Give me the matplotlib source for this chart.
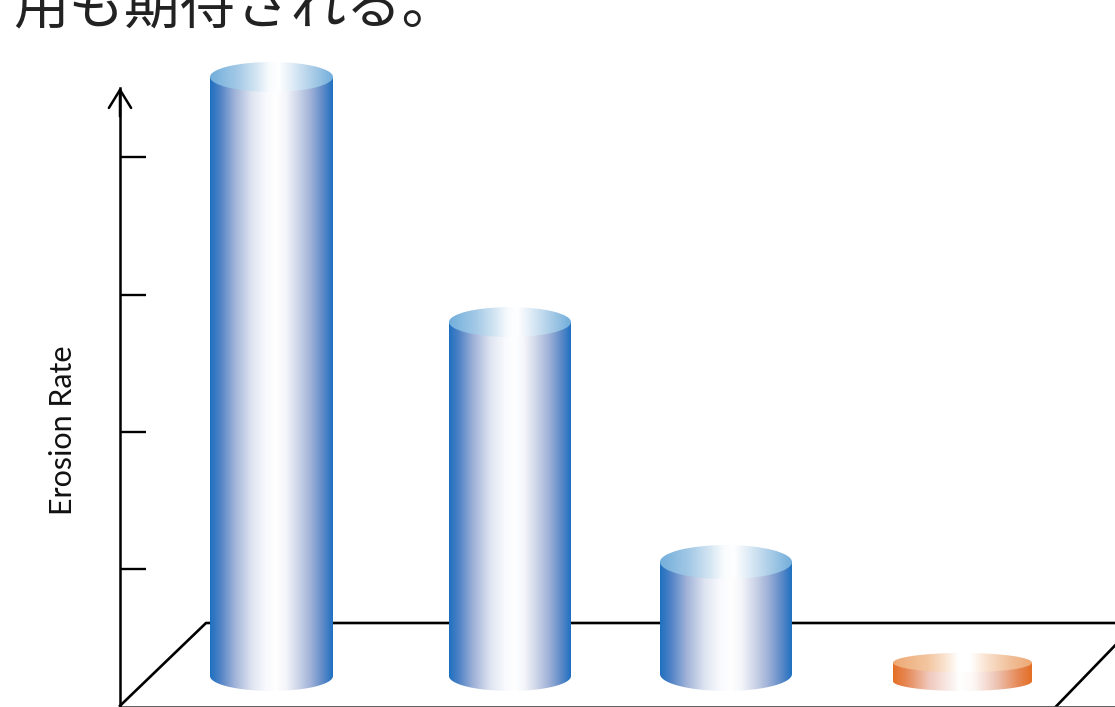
import numpy as np
import matplotlib
matplotlib.use("Agg")
import matplotlib.pyplot as plt
from matplotlib.colors import LinearSegmentedColormap
from matplotlib.patches import Ellipse
from matplotlib.path import Path
from matplotlib.patches import PathPatch

# valores (1 unidad = una marca del eje)
centers = [271.5, 510, 726, 962.5]
widths = [123, 122, 132, 139]
erosion = [4.363, 2.578, 0.815, 0.135]
cap_heights = [0.109, 0.109, 0.124, 0.071]
colors = ["blue", "blue", "blue", "orange"]
y_ticks = [1, 2, 3, 4]
y_label = "Erosion Rate"
title_text = "用も期待される。"

floor_bottom = 0.113
PX = 137.3

side_stops = [(0, "#1f70c0"), (0.08, "#4f82c6"), (0.20, "#a0b2d8"), (0.34, "#dfe5f1"),
              (0.46, "#f9fafd"), (0.54, "#ffffff"), (0.62, "#f4f5fa"), (0.70, "#d5dbeb"),
              (0.82, "#a0b2d8"), (0.92, "#5f8bc8"), (1, "#1f70c0")]
cap_stops = [(0, "#72aedb"), (0.22, "#a3c9e6"), (0.38, "#d5e6f3"), (0.48, "#f8fbfd"),
             (0.56, "#ffffff"), (0.66, "#e3eef7"), (0.85, "#a5cae6"), (1, "#72aedb")]
side_orange = [(0, "#e46f26"), (0.10, "#e68a58"), (0.26, "#f0c9bd"), (0.40, "#f9ebe7"),
               (0.48, "#ffffff"), (0.58, "#fdf8f6"), (0.74, "#eec6b8"), (0.90, "#e68a58"), (1, "#e46f26")]
cap_orange = [(0, "#eea873"), (0.25, "#f3c6a0"), (0.38, "#fae5d4"), (0.47, "#ffffff"),
              (0.56, "#ffffff"), (0.66, "#fae5d4"), (0.84, "#f1c09a"), (1, "#eea873")]
cmaps = {
    "blue": (LinearSegmentedColormap.from_list("bs", side_stops), LinearSegmentedColormap.from_list("bc", cap_stops)),
    "orange": (LinearSegmentedColormap.from_list("os", side_orange), LinearSegmentedColormap.from_list("oc", cap_orange)),
}

fig = plt.figure(figsize=(11.15, 7.07), dpi=100)
ax = fig.add_axes([0, 0, 1, 1])
ymax = 706.5 / PX
ymin = -0.5 / PX
grad = np.linspace(0, 1, 256).reshape(1, -1)

# piso
floor_y = 83.5 / PX
ax.plot([120, 206, 1115], [0.005, floor_y, floor_y], color="black", lw=1.9, zorder=1)
ax.plot([1056, 1115], [0.0, 61 / PX], color="black", lw=1.9, zorder=1)
ax.plot([120, 1115], [0.0, 0.0], color="#444444", lw=1.2, zorder=1, clip_on=False)

for cx, w, val, cap, col in zip(centers, widths, erosion, cap_heights, colors):
    side_map, cap_map = cmaps[col]
    low = floor_bottom + cap
    top = low + val
    t = np.linspace(np.pi, 2 * np.pi, 60)
    xs = cx + w / 2 * np.cos(t)
    ys = low + cap * np.sin(t)
    verts = [(cx - w / 2, top)] + list(zip(xs, ys)) + [(cx + w / 2, top), (cx - w / 2, top)]
    codes = [Path.MOVETO] + [Path.LINETO] * (len(verts) - 2) + [Path.CLOSEPOLY]
    body = PathPatch(Path(verts, codes), transform=ax.transData, fc="none", ec="none")
    ax.add_patch(body)
    im = ax.imshow(grad, cmap=side_map, extent=[cx - w / 2, cx + w / 2, floor_bottom, top],
                   aspect="auto", zorder=2, interpolation="bilinear")
    im.set_clip_path(body)
    lid = Ellipse((cx, top), w, 2 * cap, fc="none", ec="none", transform=ax.transData)
    ax.add_patch(lid)
    im2 = ax.imshow(grad, cmap=cap_map, extent=[cx - w / 2, cx + w / 2, top - cap, top + cap],
                    aspect="auto", zorder=3, interpolation="bilinear")
    im2.set_clip_path(lid)

ax.set_xlim(0, 1115)
ax.set_ylim(ymin, ymax)

# eje con flecha
for s in ["top", "right", "bottom"]:
    ax.spines[s].set_visible(False)
ax.spines["left"].set_position(("data", 120))
ax.spines["left"].set_bounds(0, 618 / PX)
ax.spines["left"].set_linewidth(1.8)
ax.set_xticks([])
ax.set_yticks(y_ticks)
ax.set_yticklabels([])
ax.tick_params(axis="y", direction="in", length=18.7, width=1.7, color="black")
ax.annotate("", xy=(120, 619 / PX), xytext=(120, 590 / PX),
            arrowprops=dict(arrowstyle="->,head_length=1.3,head_width=0.8", color="black", lw=1.8,
                            shrinkA=0, shrinkB=0))
ax.patch.set_visible(False)

fig.text(63 / 1115, 1 - 430 / 707, y_label, rotation=90, ha="center", va="center",
         family="Lato", fontsize=22, color="#111111")
fig.text(13 / 1115, 1 - 24 / 707, title_text, ha="left", va="baseline",
         family=["Noto Sans CJK JP", "DejaVu Sans"], fontsize=40, color="#222222")

fig.savefig("out.png", dpi=100)
